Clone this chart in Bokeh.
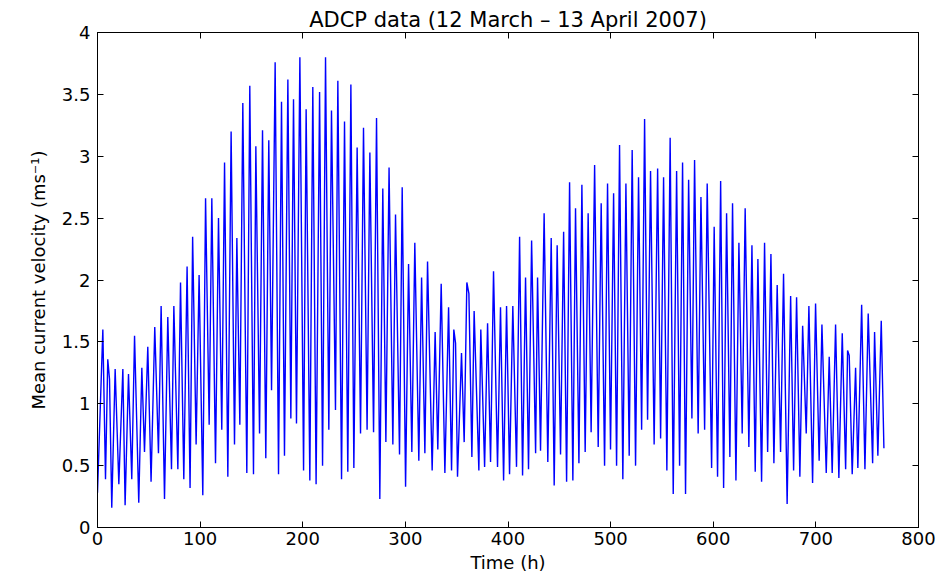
from bokeh.plotting import figure
from bokeh.models import Range1d, LinearAxis, FixedTicker
from bokeh.embed import file_html
from bokeh.resources import INLINE

# Mean current velocity (m/s), turning points of the record
hours = [
    0.0, 5.2, 7.8, 10.0, 11.7, 13.9, 17.2, 20.8, 24.7, 26.9, 30.2, 33.4, 36.1, 40.2, 43.2, 45.8,
    49.0, 52.2, 55.8, 59.4, 62.0, 65.3, 68.5, 72.1, 74.4, 78.3, 80.9, 84.1, 87.3, 90.2, 92.7,
    96.1, 99.0, 102.6, 105.3, 108.8, 111.4, 115.0, 117.9, 121.1, 123.8, 127.0, 130.2, 133.5,
    135.8, 138.7, 141.6, 145.5, 148.4, 152.0, 154.3, 157.9, 160.8, 164.0, 166.9, 169.6, 173.1,
    176.4, 179.3, 182.2, 185.5, 188.4, 191.0, 193.9, 197.2, 200.8, 203.3, 206.9, 209.8, 213.0,
    216.4, 219.3, 222.2, 225.4, 228.0, 231.9, 234.2, 237.8, 240.7, 243.9, 246.9, 249.8, 253.0,
    256.3, 259.2, 262.7, 265.4, 269.0, 271.9, 275.1, 278.0, 281.0, 284.1, 287.8, 290.4, 294.3,
    296.9, 300.2, 303.1, 306.3, 309.2, 313.1, 315.8, 319.0, 321.6, 326.1, 329.0, 331.6, 334.9,
    338.5, 342.1, 345.0, 347.2, 348.9, 350.8, 354.7, 357.3, 359.9, 361.9, 364.8, 367.0, 371.6,
    373.5, 377.2, 380.1, 383.0, 385.9, 389.8, 392.7, 395.7, 398.6, 401.5, 404.7, 408.3, 411.3,
    414.2, 417.1, 420.0, 423.0, 426.9, 428.8, 431.7, 435.2, 438.8, 442.1, 445.0, 447.9, 451.2,
    454.2, 457.1, 460.0, 463.2, 465.8, 469.1, 472.0, 475.2, 478.1, 481.0, 484.4, 487.9, 490.8,
    494.1, 497.0, 499.9, 502.9, 505.8, 508.7, 511.9, 514.9, 518.1, 521.0, 524.3, 527.2, 530.2,
    533.1, 536.0, 538.9, 542.4, 545.8, 548.7, 551.6, 554.8, 558.0, 561.0, 564.3, 567.2, 570.1,
    573.0, 576.0, 579.2, 581.8, 585.3, 588.0, 591.6, 594.1, 598.4, 600.9, 604.2, 607.2, 610.1,
    613.0, 616.2, 618.8, 622.1, 625.0, 628.2, 631.1, 634.7, 637.7, 640.9, 643.5, 647.1, 650.0,
    653.0, 656.2, 659.1, 662.3, 665.6, 668.5, 672.0, 675.4, 678.3, 681.2, 684.4, 687.1, 690.6,
    693.2, 696.8, 699.7, 703.2, 705.9, 710.1, 713.0, 715.9, 719.2, 722.4, 725.7, 729.0, 730.9,
    732.5, 735.4, 738.7, 740.9, 744.6, 747.8, 751.0, 755.3, 757.2, 760.4, 763.7, 766.3,
]
velocity = [
    0.28, 1.60, 0.39, 1.36, 1.20, 0.16, 1.28, 0.35, 1.28, 0.18, 1.24, 0.39, 1.55, 0.20, 1.29, 0.61,
    1.46, 0.37, 1.62, 0.60, 1.79, 0.23, 1.70, 0.47, 1.79, 0.47, 1.98, 0.39, 2.11, 0.32, 2.35,
    0.67, 2.04, 0.26, 2.66, 0.83, 2.66, 0.52, 2.50, 0.79, 2.95, 0.41, 3.20, 0.67,
    2.34, 0.83, 3.43, 0.44, 3.57, 0.43, 3.08, 0.76, 3.21, 0.56, 3.13, 1.11, 3.76,
    0.43, 3.44, 0.58, 3.62, 0.88, 3.46, 0.84, 3.80, 0.46, 3.38, 0.38, 3.56, 0.35,
    3.52, 0.50, 3.80, 0.79, 3.37, 0.95, 3.61, 0.39, 3.28, 0.45, 3.58, 0.48, 3.07,
    0.76, 3.23, 0.79, 3.03, 0.77, 3.31, 0.23, 2.74, 0.69, 2.91, 0.67, 2.53, 0.59,
    2.75, 0.33, 2.13, 0.61, 2.30, 0.54, 2.02, 0.60, 2.15, 0.46, 1.58, 0.63, 1.97,
    0.44, 1.78, 0.46, 1.60, 1.49, 0.41, 1.41, 0.69, 1.98, 1.89, 0.57, 1.75, 0.46,
    1.60, 0.49, 1.65, 0.53, 2.07, 0.49, 1.78, 0.38, 1.79, 0.43, 1.79, 0.49, 2.35,
    0.42, 2.02, 0.47, 2.32, 0.60, 2.02, 0.62, 2.54, 0.53, 2.34, 0.34, 2.28, 0.59,
    2.39, 0.37, 2.79, 0.38, 2.58, 0.52, 2.77, 0.61, 2.54, 0.77, 2.93, 0.65, 2.62,
    0.50, 2.78, 0.63, 2.70, 0.50, 3.09, 0.39, 2.78, 0.58, 3.05, 0.50, 2.83, 0.79,
    3.30, 0.87, 2.88, 0.67, 2.90, 0.72, 2.83, 0.46, 3.15, 0.27, 2.88, 0.50, 2.95,
    0.27, 2.81, 0.88, 2.97, 0.76, 2.67, 0.79, 2.78, 0.48, 2.43, 0.41, 2.80, 0.32,
    2.54, 0.57, 2.62, 0.38, 2.30, 0.76, 2.58, 0.65, 2.28, 0.45, 2.17, 0.37, 2.30,
    0.61, 2.21, 0.52, 1.96, 0.61, 2.05, 0.19, 1.87, 0.46, 1.86, 0.41, 1.63, 0.76,
    1.79, 0.36, 1.81, 0.54, 1.64, 0.44, 1.38, 0.44, 1.64, 0.40, 1.57, 0.47, 1.43,
    1.39, 0.43, 1.29, 0.48, 1.80, 0.47, 1.73, 0.52, 1.58, 0.58, 1.67, 0.64,
]

x_ticks = [0, 100, 200, 300, 400, 500, 600, 700, 800]
x_tick_labels = ["0", "100", "200", "300", "400", "500", "600", "700", "800"]
y_ticks = [0, 0.5, 1, 1.5, 2, 2.5, 3, 3.5, 4]
y_tick_labels = ["0", "0.5", "1", "1.5", "2", "2.5", "3", "3.5", "4"]

FONT = "DejaVu Sans"

p = figure(
    width=941, height=580, output_backend="svg", toolbar_location=None,
    x_range=Range1d(0, 800), y_range=Range1d(0, 4),
    title="ADCP data (12 March \u2013 13 April 2007)",
    min_border_left=97, min_border_right=23, min_border_top=32, min_border_bottom=53,
)
p.line(hours, velocity, line_color="#0000ff", line_width=1.4)

p.grid.visible = False
p.outline_line_color = "black"
p.outline_line_width = 1
p.background_fill_color = "white"
p.border_fill_color = "white"

p.title.text_font = FONT
p.title.text_font_size = "21px"
p.title.text_font_style = "normal"
p.title.align = "center"
p.title.text_color = "black"
p.title.standoff = 2


def style_axis(ax, ticks, labels, show_labels=True):
    ax.ticker = FixedTicker(ticks=ticks)
    ax.axis_line_color = "black"
    ax.axis_line_width = 1
    ax.major_tick_line_color = "black"
    ax.major_tick_line_width = 1
    ax.major_tick_in = 6
    ax.major_tick_out = 0
    ax.minor_tick_in = 0
    ax.minor_tick_out = 0
    ax.major_label_text_font = FONT
    ax.major_label_text_color = "black"
    if show_labels:
        ax.major_label_overrides = {t: l for t, l in zip(ticks, labels)}
        ax.major_label_text_font_size = "18px"
    else:
        ax.major_label_overrides = {t: "" for t in ticks}
        ax.major_label_text_font_size = "0px"
        ax.major_label_standoff = 0


style_axis(p.xaxis[0], x_ticks, x_tick_labels)
style_axis(p.yaxis[0], y_ticks, y_tick_labels)
p.xaxis[0].major_label_standoff = 4
p.yaxis[0].major_label_standoff = 7

p.xaxis[0].axis_label = "Time (h)"
p.yaxis[0].axis_label = "Mean current velocity (ms\u207b\u00b9)"
for ax in (p.xaxis[0], p.yaxis[0]):
    ax.axis_label_text_font = FONT
    ax.axis_label_text_font_size = "18px"
    ax.axis_label_text_font_style = "normal"
    ax.axis_label_text_color = "black"
p.xaxis[0].axis_label_standoff = 4
p.yaxis[0].axis_label_standoff = 10

top = LinearAxis()
right = LinearAxis()
style_axis(top, x_ticks, x_tick_labels, show_labels=False)
style_axis(right, y_ticks, y_tick_labels, show_labels=False)
p.add_layout(top, "above")
p.add_layout(right, "right")

open("out.html", "w").write(file_html(p, INLINE))
